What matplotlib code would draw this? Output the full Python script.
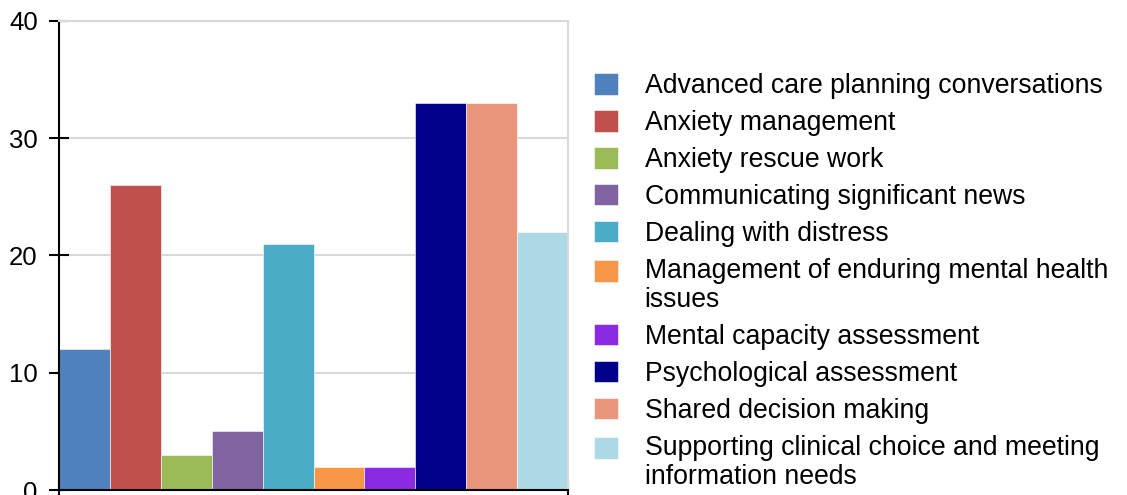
import matplotlib.pyplot as plt
from matplotlib.legend_handler import HandlerPatch

plt.rcParams['font.family'] = ['Liberation Sans', 'DejaVu Sans']

# Data
categories = [
    'Advanced care planning conversations',
    'Anxiety management',
    'Anxiety rescue work',
    'Communicating significant news',
    'Dealing with distress',
    'Management of enduring mental health\nissues',
    'Mental capacity assessment',
    'Psychological assessment',
    'Shared decision making',
    'Supporting clinical choice and meeting\ninformation needs',
]
values = [12, 26, 3, 5, 21, 2, 2, 33, 33, 22]
colors = ['#4F81BD', '#C0504D', '#9BBB59', '#8064A2', '#4BACC6',
          '#F79646', '#8A2BE2', '#00008B', '#E9967A', '#ADD8E6']
yticks = [0, 10, 20, 30, 40]


# legend handle that sits next to the first line of a wrapped label
class TopHandler(HandlerPatch):
    def __init__(self, shift=0.0, **kw):
        super().__init__(**kw)
        self.shift = shift

    def create_artists(self, legend, orig_handle, xdescent, ydescent,
                       width, height, fontsize, trans):
        arts = super().create_artists(legend, orig_handle, xdescent, ydescent,
                                      width, height, fontsize, trans)
        for a in arts:
            a.set_y(a.get_y() + self.shift * fontsize)
        return arts


fig = plt.figure(figsize=(11.27, 4.95), dpi=100)
ax = fig.add_axes([59 / 1127, 5 / 495, 509 / 1127, 469 / 495])

bars = ax.bar(range(len(values)), values, width=1.0, color=colors,
              edgecolor='white', linewidth=0.4, zorder=2)

ax.set_xlim(-0.5, len(values) - 0.5)
ax.set_ylim(0, 40)
ax.set_yticks(yticks)
ax.set_xticks([-0.5, len(values) - 0.5])
ax.set_xticklabels([])

# Gridlines and frame
ax.yaxis.grid(True, color='#d9d9d9', linewidth=1.5, zorder=0)
ax.set_axisbelow(True)
ax.spines['left'].set_linewidth(1.5)
ax.spines['bottom'].set_linewidth(1.5)
ax.spines['top'].set_color('#d9d9d9')
ax.spines['right'].set_color('#d9d9d9')
ax.spines['top'].set_linewidth(1.5)
ax.spines['right'].set_linewidth(1.5)
ax.tick_params(axis='both', direction='inout', length=14.5, width=1.5,
               labelsize=18.5, pad=8)

hmap = {}
for b, lab in zip(bars, categories):
    if '\n' in lab:
        hmap[b] = TopHandler(shift=0.56)

leg = fig.legend(bars, categories, loc='upper left',
                 bbox_to_anchor=(594 / 1127, 1 - 73 / 495),
                 frameon=False, fontsize=19.2, borderpad=0, borderaxespad=0,
                 handlelength=0.9, handleheight=0.87, handletextpad=1.0,
                 labelspacing=0.41, handler_map=hmap)
for t in leg.get_texts():
    t.set_linespacing(1.15)

fig.savefig('out.png', dpi=100)
